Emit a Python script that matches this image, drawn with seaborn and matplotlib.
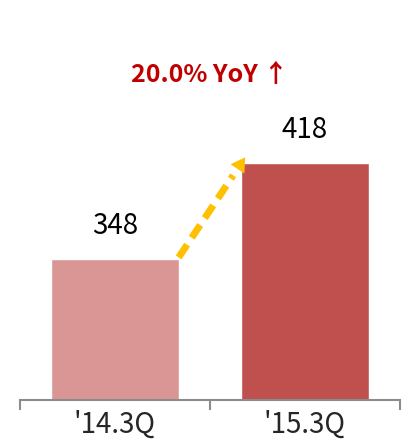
import matplotlib
matplotlib.use("Agg")
import matplotlib.pyplot as plt
import seaborn as sns
import pandas as pd

# data
quarters = ["'14.3Q", "'15.3Q"]
values = [348, 418]
colors = ["#D99694", "#C0504D"]
growth_label = "20.0% YoY \u2191"

df = pd.DataFrame({"quarter": quarters, "value": values})

sns.set_style("white")
plt.rcParams["font.family"] = ["Noto Sans CJK KR", "DejaVu Sans"]

fig = plt.figure(figsize=(4.05, 4.45), dpi=100)
ax = fig.add_axes([20 / 405, 45 / 445, 380 / 405, 380 / 445])

sns.barplot(data=df, x="quarter", y="value", hue="quarter", palette=colors,
            width=0.67, legend=False, ax=ax, saturation=1)

ax.set_xlim(-0.5, 1.5)
ax.set_ylim(245, 245 + 380 / 1.371)

# value labels
for i, v in enumerate(values):
    ax.text(i, v + 13, str(v), ha="center", va="bottom", fontsize=20,
            fontweight="medium", color="black")

# growth text
ax.text(0.5, 0.855, growth_label, transform=ax.transAxes, ha="center", va="center",
        fontsize=18, fontweight="bold", color="#C00000")

# dashed arrow between bars
x0, y0 = 0.335, 349
x1, y1 = 0.685, 422
ax.plot([x0, x0 + (x1 - x0) * 0.82], [y0, y0 + (y1 - y0) * 0.82],
        color="#FFC000", lw=5, ls=(0, (2.2, 1.2)), solid_capstyle="butt")
ax.annotate("", xy=(x1, y1), xytext=(x0 + (x1 - x0) * 0.78, y0 + (y1 - y0) * 0.78),
            arrowprops=dict(arrowstyle="-|>,head_length=1.0,head_width=0.6",
                            color="#FFC000", lw=0, shrinkA=0, shrinkB=0))

# axes styling
for s in ["top", "left", "right"]:
    ax.spines[s].set_visible(False)
ax.spines["bottom"].set_color("#8C8C8C")
ax.spines["bottom"].set_linewidth(1.5)
ax.set_yticks([])
ax.set_xlabel("")
ax.set_ylabel("")
ax.tick_params(axis="x", which="both", bottom=True)
ax.tick_params(axis="x", which="major", length=0, labelsize=20, pad=7)
ax.set_xticks([-0.5, 0.5, 1.5], minor=True)
ax.tick_params(axis="x", which="minor", length=7, width=1.5, color="#8C8C8C", direction="out")
for lab in ax.get_xticklabels():
    lab.set_fontweight("medium")

fig.savefig("out.png", dpi=100)
